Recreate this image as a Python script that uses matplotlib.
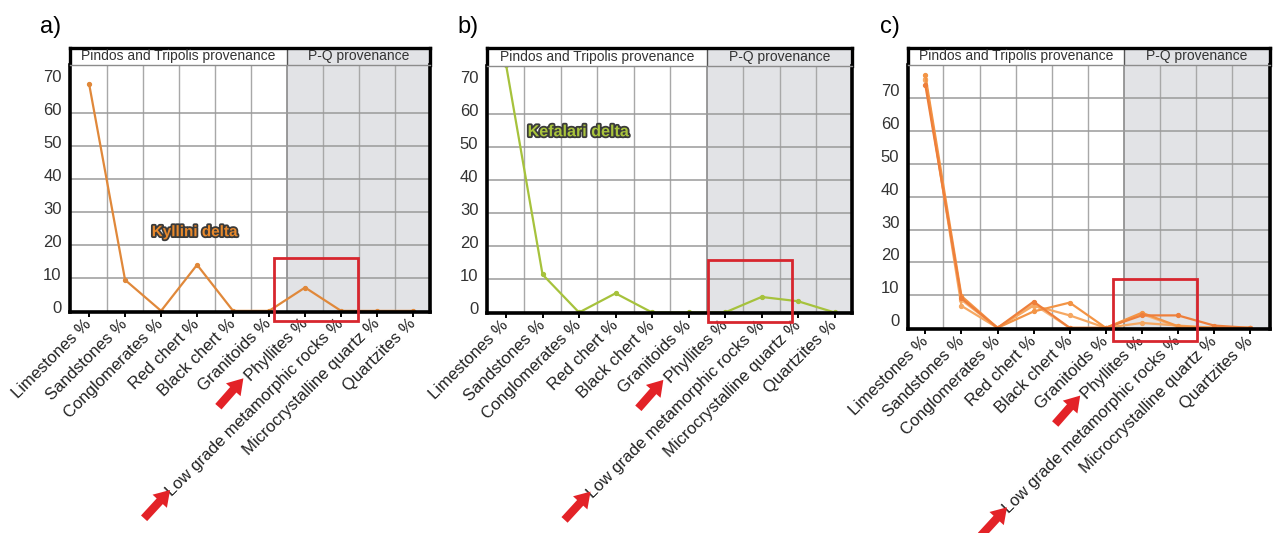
import matplotlib

matplotlib.use("Agg")
import matplotlib.pyplot as plt
import matplotlib.patheffects as pe
from matplotlib.patches import Rectangle, FancyArrowPatch
from matplotlib.transforms import IdentityTransform, ScaledTranslation

plt.rcParams["font.family"] = ["Liberation Sans", "DejaVu Sans"]

W, H, DPI = 1274, 533, 100

TEXT = "#222222"
TICK_TEXT = "#333333"
SHADE = "#e2e3e6"
GRID_V = "#a8a8a8"
GRID_H = "#9a9a9a"
BOX_RED = "#d7262e"
ARROW_RED = "#e32227"

CATEGORIES = [
    "Limestones %",
    "Sandstones %",
    "Conglomerates %",
    "Red chert %",
    "Black chert %",
    "Granitoids %",
    "Phyllites %",
    "Low grade metamorphic rocks %",
    "Microcrystalline quartz %",
    "Quartzites %",
]
Y_TICKS = [0, 10, 20, 30, 40, 50, 60, 70]
PQ_START = 5.5  # first P-Q category sits right of this boundary

# Kyllini delta
KYLLINI = [69, 9.4, 0, 14, 0, 0, 7.1, 0, 0, 0]
# Kefalari delta
KEFALARI = [75, 11.5, 0, 5.8, 0, 0, 0, 4.7, 3.4, 0]
# individual samples, panel c
SAMPLE_1 = [74, 9.0, 0, 8.0, 0, 0, 3.8, 3.8, 0.7, 0]
SAMPLE_2 = [77, 9.7, 0, 5.0, 7.7, 0, 4.6, 0.5, 0, 0]
SAMPLE_3 = [76, 6.7, 0, 6.8, 3.8, 0, 1.5, 0.7, 0, 0]
SAMPLE_4 = [75.5, 8.5, 0, 7.2, 0, 0, 4.2, 0.3, 0, 0]


def px_box(left, top, right, bottom):
    return [left / W, 1 - bottom / H, (right - left) / W, (bottom - top) / H]


def add_arrow(fig, tail, tip):
    arrow = FancyArrowPatch(
        tail, tip,
        arrowstyle="simple,head_length=11,head_width=14,tail_width=6",
        mutation_scale=1, shrinkA=0, shrinkB=0,
        color=ARROW_RED, lw=0, transform=IdentityTransform(),
    )
    fig.add_artist(arrow)


def draw_panel(fig, p):
    left, top, head_bottom, right, bottom = p["box"]
    xlim, ylim = p["xlim"], p["ylim"]

    # header strip with the two provenance groups
    hx = fig.add_axes(px_box(left, top, right, head_bottom))
    hx.set_xlim(xlim)
    hx.set_ylim(0, 1)
    hx.axvspan(PQ_START, xlim[1], color=SHADE, lw=0)
    hx.axvline(PQ_START, color="#555555", lw=1)
    hx.set_xticks([])
    hx.set_yticks([])
    for side in ["top", "left", "right"]:
        hx.spines[side].set_linewidth(2.4)
        hx.spines[side].set_color("black")
    hx.spines["bottom"].set_visible(False)
    hx.text((xlim[0] + PQ_START) / 2, 0.5, "Pindos and Tripolis provenance",
            ha="center", va="center", fontsize=10, color="#333333")
    hx.text((PQ_START + xlim[1]) / 2, 0.5, "P-Q provenance",
            ha="center", va="center", fontsize=10, color="#333333")

    ax = fig.add_axes(px_box(left, head_bottom, right, bottom))
    ax.set_xlim(xlim)
    ax.set_ylim(ylim)
    ax.axvspan(PQ_START, xlim[1], color=SHADE, lw=0, zorder=0)

    for k in range(len(CATEGORIES) - 1):
        pos = k + 0.5
        if pos == PQ_START:
            ax.axvline(pos, color="#8a8a8a", lw=1.2, zorder=1)
        else:
            ax.axvline(pos, color=GRID_V, lw=1, zorder=1)
    for yv in Y_TICKS[1:]:
        if yv <= p["grid_top"]:
            ax.axhline(yv, color=GRID_H, lw=1.1, zorder=1)

    # lines sit just under the spines so zero runs vanish into the frame
    for values, color in zip(p["series"], p["colors"]):
        ax.plot(range(len(CATEGORIES)), values, color=color, lw=1.6,
                marker="o", markersize=2.8, zorder=2.2)

    ax.set_xticks(range(len(CATEGORIES)))
    ax.set_xticklabels(CATEGORIES, rotation=45, ha="right", va="center",
                       rotation_mode="anchor", fontsize=12, color=TEXT)
    ax.set_yticks(Y_TICKS)
    ax.set_yticklabels([str(v) for v in Y_TICKS], fontsize=12, color=TICK_TEXT)
    ax.tick_params(axis="x", direction="out", length=3.5, width=1.4, pad=3.5)
    ax.tick_params(axis="y", length=0, pad=6)
    lift = ScaledTranslation(0, p["label_lift"] / DPI, fig.dpi_scale_trans)
    for lab in ax.get_yticklabels():
        lab.set_transform(lab.get_transform() + lift)

    for side in ["left", "right", "bottom"]:
        ax.spines[side].set_linewidth(2.6)
        ax.spines[side].set_color("black")
    ax.spines["top"].set_linewidth(1)
    ax.spines["top"].set_color("#8c8c8c")

    if p.get("note"):
        text, nx, ny, color, size = p["note"]
        ax.text(nx, ny, text, ha="center", va="center", fontsize=size,
                fontweight="bold", color=color, zorder=4,
                path_effects=[pe.withStroke(linewidth=2.6, foreground="#3a3a3a")])

    (x0, y0), (x1, y1) = p["rect"]
    ax.add_patch(Rectangle((x0, y0), x1 - x0, y1 - y0, fill=False,
                           edgecolor=BOX_RED, lw=2, zorder=5, clip_on=False))

    fig.text(p["letter_pos"][0] / W, 1 - p["letter_pos"][1] / H, p["letter"],
             fontsize=17, ha="left", va="center", color="black")

    # red arrows pointing at the Phyllites and low grade metamorphic labels
    y_axis = H - bottom
    for idx, (tip, tail) in [(6, ((-61.7, 66.6), (-86.7, 95))),
                             (7, ((-171, 178.3), (-197, 206.6)))]:
        tx = ax.transData.transform((idx, 0))[0]
        add_arrow(fig, (tx + tail[0], y_axis - tail[1]), (tx + tip[0], y_axis - tip[1]))


fig = plt.figure(figsize=(W / DPI, H / DPI), dpi=DPI, facecolor="white")

panels = [
    dict(box=(70, 47.7, 65, 430, 311.7), xlim=(-0.53, 9.47), ylim=(-0.25, 74.7),
         grid_top=60, label_lift=4, series=[KYLLINI], colors=["#e0883a"],
         note=("Kyllini delta", 2.94, 23.9, "#e8892c", 11),
         rect=((5.15, -3.0), (7.46, 16)), letter="a)", letter_pos=(40, 27)),
    dict(box=(486.7, 47.7, 65.7, 851.7, 313.3), xlim=(-0.53, 9.47), ylim=(-0.25, 74.7),
         grid_top=60, label_lift=4, series=[KEFALARI], colors=["#a6c23c"],
         note=("Kefalari delta", 1.98, 54.7, "#a9c43c", 11.6),
         rect=((5.54, -2.8), (7.83, 16)), letter="b)", letter_pos=(457, 27)),
    dict(box=(907.7, 47.7, 65, 1270, 329), xlim=(-0.49, 9.55), ylim=(-0.35, 80.2),
         grid_top=70, label_lift=8,
         series=[SAMPLE_4, SAMPLE_3, SAMPLE_2, SAMPLE_1],
         colors=["#f7b47a", "#f6a862", "#f39445", "#ee7f3b"],
         note=None, rect=((5.21, -4.1), (7.52, 15)), letter="c)", letter_pos=(880, 27)),
]

for panel in panels:
    draw_panel(fig, panel)

fig.savefig("out.png", dpi=DPI, facecolor="white")
